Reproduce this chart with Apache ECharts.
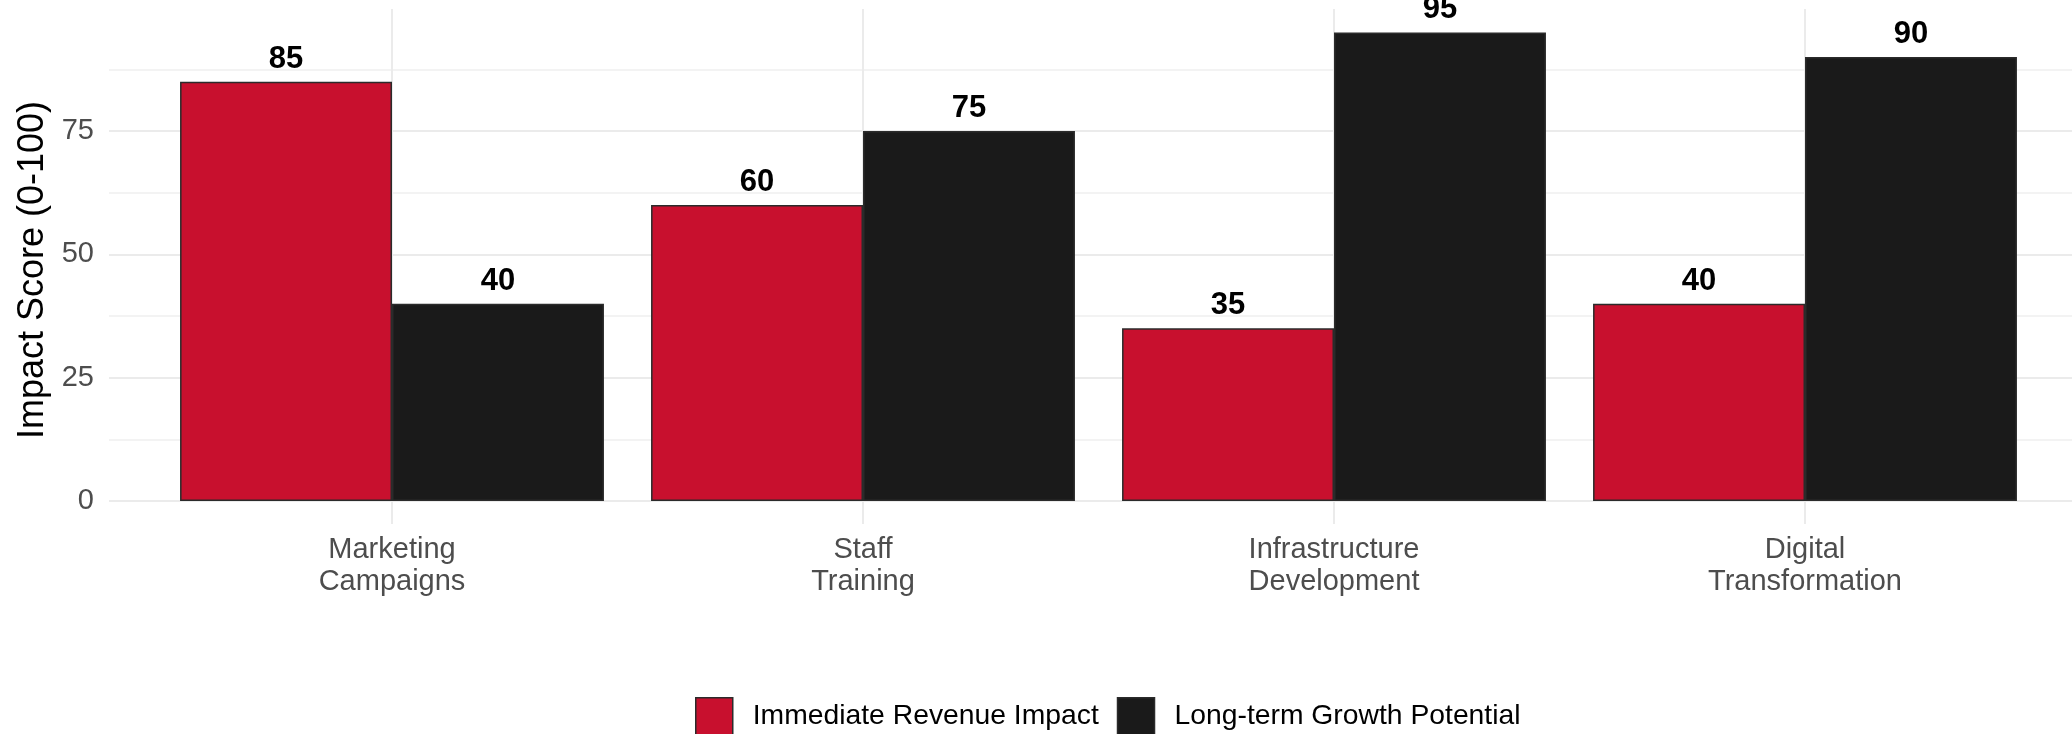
<!DOCTYPE html>
<html>
<head>
<meta charset="utf-8">
<title>Impact Score</title>
<script src="https://cdn.jsdelivr.net/npm/echarts@6/dist/echarts.min.js"></script>
<style>
  html, body { margin: 0; padding: 0; background: #ffffff; }
  #chart { width: 2072px; height: 734px; }
</style>
</head>
<body>
<div id="chart"></div>
<script>
const categories = ['Marketing\nCampaigns', 'Staff\nTraining', 'Infrastructure\nDevelopment', 'Digital\nTransformation']
const immediateRevenue = [85, 60, 35, 40]
const longTermGrowth = [40, 75, 95, 90]
const seriesNames = ['Immediate Revenue Impact', 'Long-term Growth Potential']
const yMax = 99.75 // 95 + 5% like ggplot

const font = 'Liberation Sans'
const gridColor = '#ebebeb'

const chart = echarts.init(document.getElementById('chart'))

const labelStyle = {
  show: true,
  position: 'top',
  distance: 7,
  fontFamily: font,
  fontSize: 31,
  fontWeight: 'bold',
  color: '#000000'
}

chart.setOption({
  backgroundColor: '#ffffff',
  animation: false,
  textStyle: { fontFamily: font },
  legend: {
    left: 695,
    top: 697,
    padding: 0,
    icon: 'rect',
    itemWidth: 37,
    itemHeight: 37,
    itemGap: 18,
    textStyle: {
      fontFamily: font,
      fontSize: 28.3,
      color: '#000000',
      padding: [0, 0, 0, 15]
    },
    data: [
      { name: seriesNames[0], itemStyle: { borderColor: '#2b2b2b', borderWidth: 1.5 } },
      { name: seriesNames[1], itemStyle: { borderColor: '#2b2b2b', borderWidth: 1.5 } }
    ]
  },
  grid: [
    // bars
    { left: 156.5, right: 31.5, top: 9, bottom: 233 },
    // background horizontal lines, full panel width
    { left: 109, right: -16, top: 9, bottom: 233 }
  ],
  xAxis: [
    {
      type: 'category',
      gridIndex: 0,
      data: categories,
      boundaryGap: true,
      axisLine: { show: false },
      axisTick: {
        show: true,
        alignWithLabel: true,
        length: 23,
        lineStyle: { color: gridColor, width: 2 }
      },
      splitLine: {
        show: true,
        alignWithLabel: true,
        lineStyle: { color: gridColor, width: 2 }
      },
      axisLabel: {
        margin: 33,
        fontFamily: font,
        fontSize: 29,
        lineHeight: 32,
        color: '#4d4d4d'
      }
    },
    {
      type: 'value',
      gridIndex: 1,
      show: false
    }
  ],
  yAxis: [
    {
      type: 'value',
      gridIndex: 0,
      min: 0,
      max: yMax,
      show: false,
      splitLine: { show: false }
    },
    {
      type: 'value',
      gridIndex: 1,
      min: 0,
      max: yMax,
      interval: 25,
      name: 'Impact Score (0-100)',
      nameLocation: 'middle',
      nameGap: 55,
      nameTextStyle: {
        fontFamily: font,
        fontSize: 36,
        color: '#000000',
        padding: [0, 30, 0, 0]
      },
      axisLine: { show: false },
      axisTick: { show: false },
      axisLabel: {
        margin: 15,
        fontFamily: font,
        fontSize: 29,
        color: '#4d4d4d',
        showMaxLabel: false
      },
      splitLine: { showMaxLine: false, lineStyle: { color: gridColor, width: 2 } },
      minorTick: { show: false, splitNumber: 2 },
      minorSplitLine: { show: true, lineStyle: { color: '#f0f0f0', width: 1.5 } }
    }
  ],
  series: [
    {
      name: seriesNames[0],
      type: 'bar',
      xAxisIndex: 0,
      yAxisIndex: 0,
      barGap: '0%',
      barCategoryGap: '10%',
      itemStyle: { color: '#c8102e', borderColor: '#2b2b2b', borderWidth: 1.5 },
      label: labelStyle,
      data: immediateRevenue
    },
    {
      name: seriesNames[1],
      type: 'bar',
      xAxisIndex: 0,
      yAxisIndex: 0,
      barGap: '0%',
      barCategoryGap: '10%',
      itemStyle: { color: '#1a1a1a', borderColor: '#2b2b2b', borderWidth: 1.5 },
      label: labelStyle,
      data: longTermGrowth
    }
  ]
})
</script>
</body>
</html>
